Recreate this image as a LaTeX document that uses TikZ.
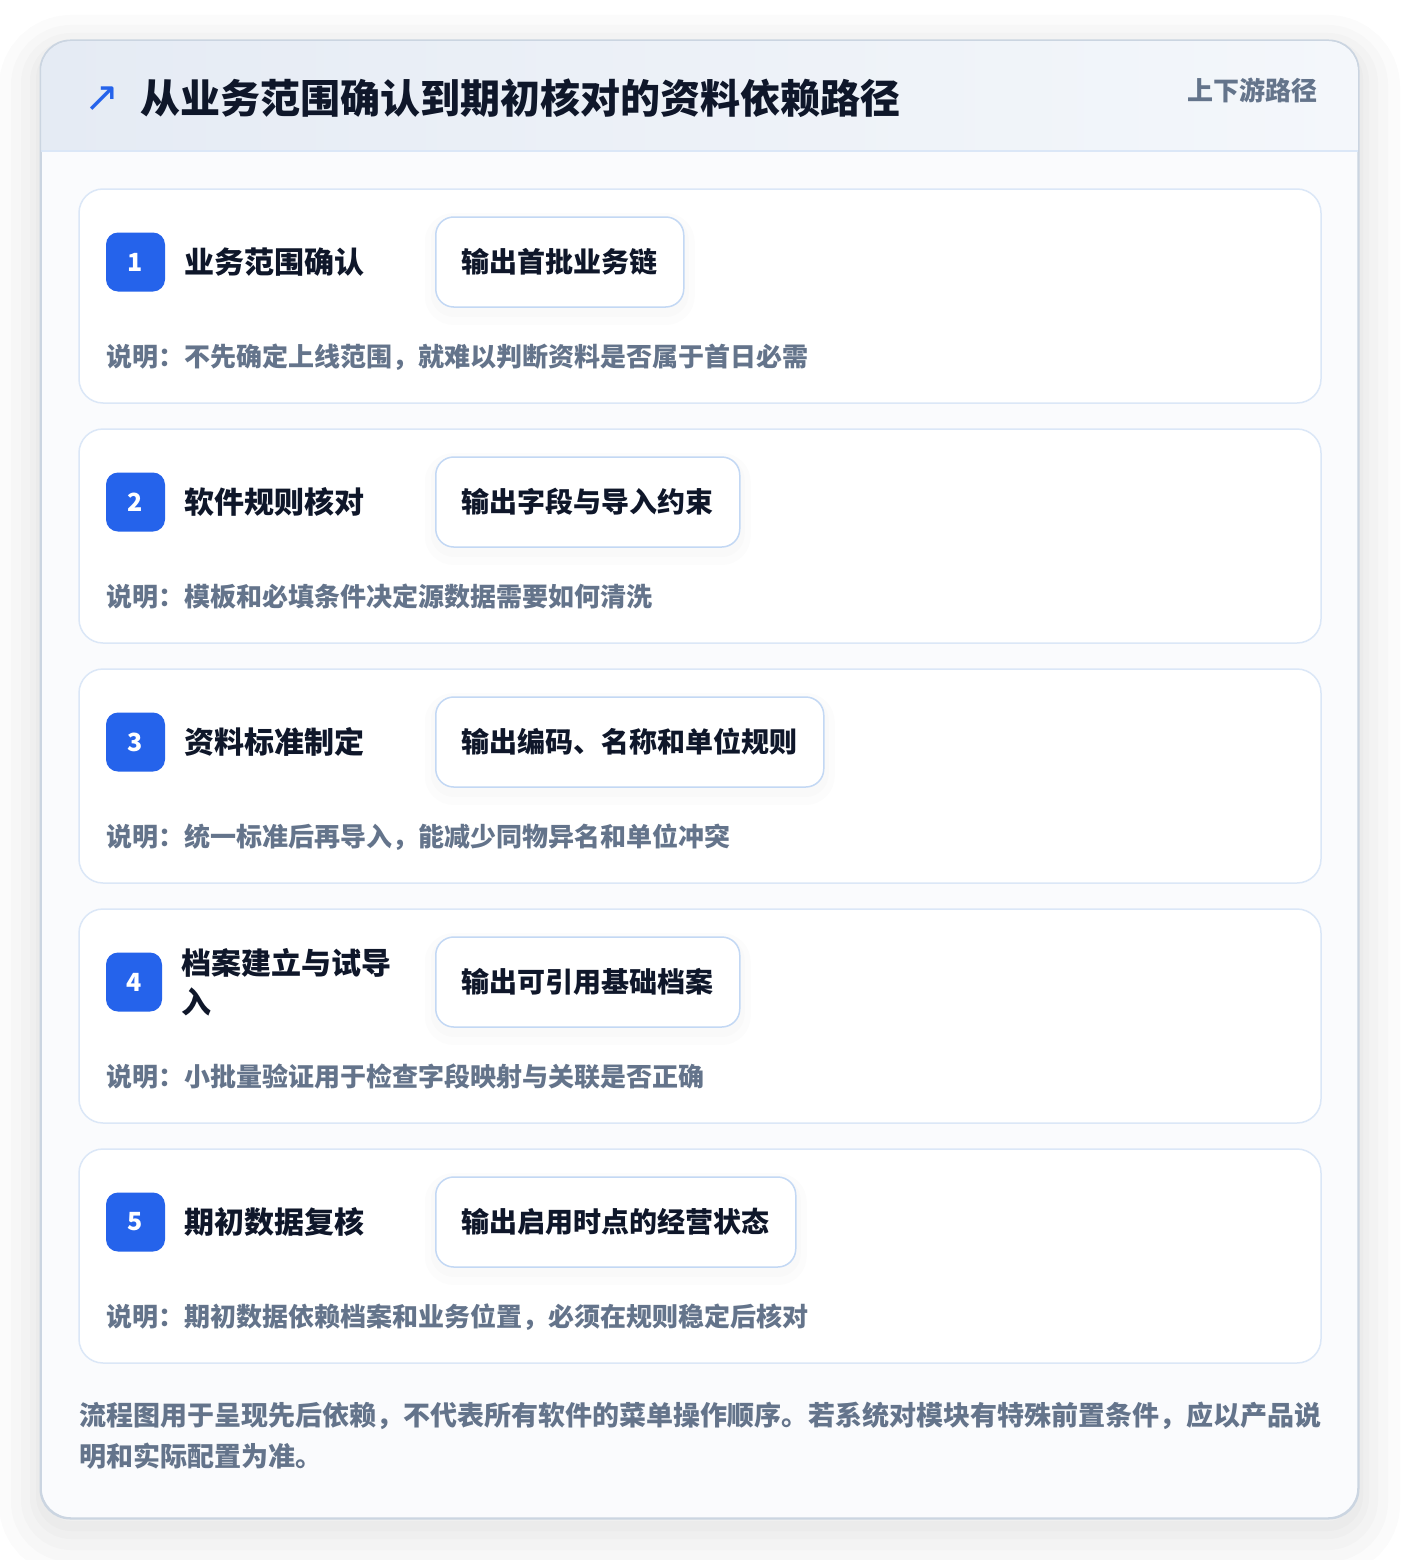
\documentclass[tikz,border=0pt]{standalone}
\usepackage{fontspec}
\setmainfont{Noto Sans CJK SC}
\newfontfamily\symfont{DejaVu Sans}
\usepackage{tikz}
\usetikzlibrary{positioning}
\definecolor{flowblue}{HTML}{2563EB}
\definecolor{flowink}{HTML}{0F172A}
\definecolor{flowgray}{HTML}{64748B}
\definecolor{flowline}{HTML}{DBE7F7}
\definecolor{flowedge}{HTML}{C3D8F4}
\definecolor{flowframe}{HTML}{CBD5E1}
\definecolor{flowbody}{HTML}{FAFBFD}
\definecolor{flowheadl}{HTML}{E5EBF4}
\definecolor{flowheadr}{HTML}{F4F7FB}
\definecolor{flowshade}{HTML}{0F172A}

\begin{document}
\begin{tikzpicture}[x=1pt, y=-1pt,
    panel/.style={draw=flowframe, line width=1.5pt, fill=flowbody, rounded corners=30pt,
      minimum width=1317pt, minimum height=1477pt, inner sep=0pt,
      preaction={draw=flowshade, draw opacity=0.016, line width=84pt, transform canvas={yshift=-16pt}},
      preaction={draw=flowshade, draw opacity=0.016, line width=60pt, transform canvas={yshift=-14pt}},
      preaction={draw=flowshade, draw opacity=0.016, line width=40pt, transform canvas={yshift=-12pt}},
      preaction={draw=flowshade, draw opacity=0.016, line width=22pt, transform canvas={yshift=-10pt}},
      preaction={draw=flowshade, draw opacity=0.016, line width=10pt, transform canvas={yshift=-8pt}}},
    stepcard/.style={draw=flowline, line width=1.5pt, fill=white, rounded corners=24pt,
      minimum width=1242pt, minimum height=214pt, inner sep=0pt},
    badge/.style={fill=flowblue, rounded corners=12pt, minimum width=59pt, minimum height=59pt,
      inner sep=0pt, text=white, font=\fontsize{25}{28}\selectfont\bfseries},
    steptitle/.style={anchor=west, inner sep=0pt, text=flowink, align=left,
      font=\fontsize{30}{39}\selectfont\bfseries},
    outbox/.style={anchor=west, draw=flowedge, line width=1.5pt, fill=white, rounded corners=18pt,
      minimum height=90pt, inner xsep=26pt, text=flowink, font=\fontsize{28}{32}\selectfont\bfseries,
      preaction={draw=flowshade, draw opacity=0.012, line width=22pt, transform canvas={yshift=-7pt}},
      preaction={draw=flowshade, draw opacity=0.012, line width=10pt, transform canvas={yshift=-5pt}}},
    desc/.style={anchor=west, inner sep=0pt, text=flowgray, font=\fontsize{26}{30}\selectfont\bfseries}]

    \useasboundingbox (0,0) rectangle (1400,1560);
    \fill[white] (0,0) rectangle (1400,1560);

    % Outer panel and header band
    \node[panel] (panel) at (699.5,779.5) {};
    \begin{scope}
        \clip[rounded corners=30pt] (41,41) rectangle (1358,1518);
        \shade[left color=flowheadl, right color=flowheadr] (41,41) rectangle (1358,151);
    \end{scope}
    \draw[flowline, line width=1.5pt] (41,151) -- (1358,151);
    \draw[flowframe, line width=1.5pt, rounded corners=30pt] (panel.north west) rectangle (panel.south east);

    \node[text=flowblue, font=\symfont\fontsize{42}{42}\selectfont, inner sep=0pt] (icon) at (102,99) {↗};
    \node[anchor=west, inner sep=0pt, text=flowink, font=\fontsize{40}{44}\selectfont\bfseries] (title) at (140,98) {从业务范围确认到期初核对的资料依赖路径};
    \node[anchor=east, inner sep=0pt, text=flowgray, font=\fontsize{26}{30}\selectfont\bfseries] (tag) at (1318,90) {上下游路径};

    % Step 1
    \node[stepcard] (card1) at (700,296) {};
    \node[badge] (badge1) at (135.5,262) {1};
    \node[steptitle, right=19pt of badge1] (name1) {业务范围确认};
    \node[outbox] (out1) at (435,262) {输出首批业务链};
    \node[desc] (desc1) at (106,357) {说明：不先确定上线范围，就难以判断资料是否属于首日必需};

    % Step 2
    \node[stepcard] (card2) at (700,536) {};
    \node[badge] (badge2) at (135.5,502) {2};
    \node[steptitle, right=19pt of badge2] (name2) {软件规则核对};
    \node[outbox] (out2) at (435,502) {输出字段与导入约束};
    \node[desc] (desc2) at (106,597) {说明：模板和必填条件决定源数据需要如何清洗};

    % Step 3
    \node[stepcard] (card3) at (700,776) {};
    \node[badge] (badge3) at (135.5,742) {3};
    \node[steptitle, right=19pt of badge3] (name3) {资料标准制定};
    \node[outbox] (out3) at (435,742) {输出编码、名称和单位规则};
    \node[desc] (desc3) at (106,837) {说明：统一标准后再导入，能减少同物异名和单位冲突};

    % Step 4 (title wraps)
    \node[stepcard] (card4) at (700,1016) {};
    \node[badge, minimum width=56pt] (badge4) at (134,982) {4};
    \node[steptitle, right=19pt of badge4] (name4) {档案建立与试导\\入};
    \node[outbox] (out4) at (435,982) {输出可引用基础档案};
    \node[desc] (desc4) at (106,1077) {说明：小批量验证用于检查字段映射与关联是否正确};

    % Step 5
    \node[stepcard] (card5) at (700,1256) {};
    \node[badge] (badge5) at (135.5,1222) {5};
    \node[steptitle, right=19pt of badge5] (name5) {期初数据复核};
    \node[outbox] (out5) at (435,1222) {输出启用时点的经营状态};
    \node[desc] (desc5) at (106,1317) {说明：期初数据依赖档案和业务位置，必须在规则稳定后核对};

    % Footnote
    \node[anchor=west, inner sep=0pt, align=left, text=flowgray, font=\fontsize{27}{41}\selectfont\bfseries] (note) at (79,1436) {流程图用于呈现先后依赖，不代表所有软件的菜单操作顺序。若系统对模块有特殊前置条件，应以产品说\\明和实际配置为准。};
\end{tikzpicture}
\end{document}
